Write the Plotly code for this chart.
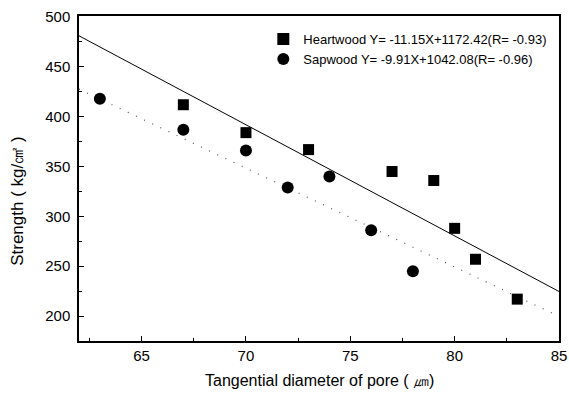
import numpy as np
import plotly.graph_objects as go

# Data
heart_x = [67, 70, 73, 77, 79, 80, 81, 83]
heart_y = [412, 384, 367, 345, 336, 288, 257, 217]
sap_x = [63, 67, 70, 72, 74, 76, 78]
sap_y = [418, 387, 366, 329, 340, 286, 245]

heart_slope, heart_icpt = -11.15, 1172.42
sap_slope, sap_icpt = -9.91, 1042.08

x_range = [62, 85]
y_range = [175, 501]

heart_label = "Heartwood Y= -11.15X+1172.42(R= -0.93)"
sap_label = "Sapwood Y= -9.91X+1042.08(R= -0.96)"

FONT = "Liberation Sans, Arial, sans-serif"

fig = go.Figure()

lx = np.array(x_range, dtype=float)
fig.add_trace(go.Scatter(x=lx, y=heart_slope * lx + heart_icpt, mode="lines",
                         line=dict(color="black", width=1), showlegend=False,
                         hoverinfo="skip"))
fig.add_trace(go.Scatter(x=lx, y=sap_slope * lx + sap_icpt, mode="lines",
                         line=dict(color="#555555", width=1.2, dash="1px,8px"),
                         showlegend=False, hoverinfo="skip"))

fig.add_trace(go.Scatter(x=heart_x, y=heart_y, mode="markers", name=heart_label,
                         marker=dict(symbol="square", size=11, color="black")))
fig.add_trace(go.Scatter(x=sap_x, y=sap_y, mode="markers", name=sap_label,
                         marker=dict(symbol="circle", size=12, color="black")))

axis_common = dict(showline=True, linecolor="black", linewidth=1.5, mirror=True,
                   ticks="inside", ticklen=5, tickwidth=1.2, tickcolor="black",
                   showgrid=False, zeroline=False,
                   tickfont=dict(family=FONT, size=15, color="black"))

fig.update_xaxes(range=x_range, tickvals=[65, 70, 75, 80, 85],
                 minor=dict(ticks="inside", ticklen=3, tickcolor="black",
                            tickvals=[62.5, 67.5, 72.5, 77.5, 82.5]),
                 **axis_common)
fig.update_yaxes(range=y_range, tickvals=[200, 250, 300, 350, 400, 450, 500],
                 minor=dict(ticks="inside", ticklen=3, tickcolor="black",
                            tickvals=[225, 275, 325, 375, 425, 475]),
                 ticklabelstandoff=4,
                 **axis_common)

fig.add_annotation(text="Tangential diameter of pore ( ㎛)", xref="paper", yref="paper",
                   x=0.5, y=-0.09, xanchor="center", yanchor="top", showarrow=False,
                   font=dict(family=FONT, size=16, color="black"))
fig.add_annotation(text="Strength ( kg/㎠ )", xref="paper", yref="paper",
                   x=-0.128, y=0.43, xanchor="center", yanchor="middle", showarrow=False,
                   textangle=-90, font=dict(family=FONT, size=17, color="black"))

fig.update_layout(
    width=569, height=396,
    margin=dict(l=79, r=10, t=16, b=55, autoexpand=False),
    paper_bgcolor="white", plot_bgcolor="white",
    font=dict(family=FONT, color="black"),
    legend=dict(x=0.384, y=0.975, xanchor="left", yanchor="top",
                bgcolor="rgba(0,0,0,0)", font=dict(family=FONT, size=13, color="black"),
                itemsizing="constant", tracegroupgap=0),
)

fig.write_html("out.html")
